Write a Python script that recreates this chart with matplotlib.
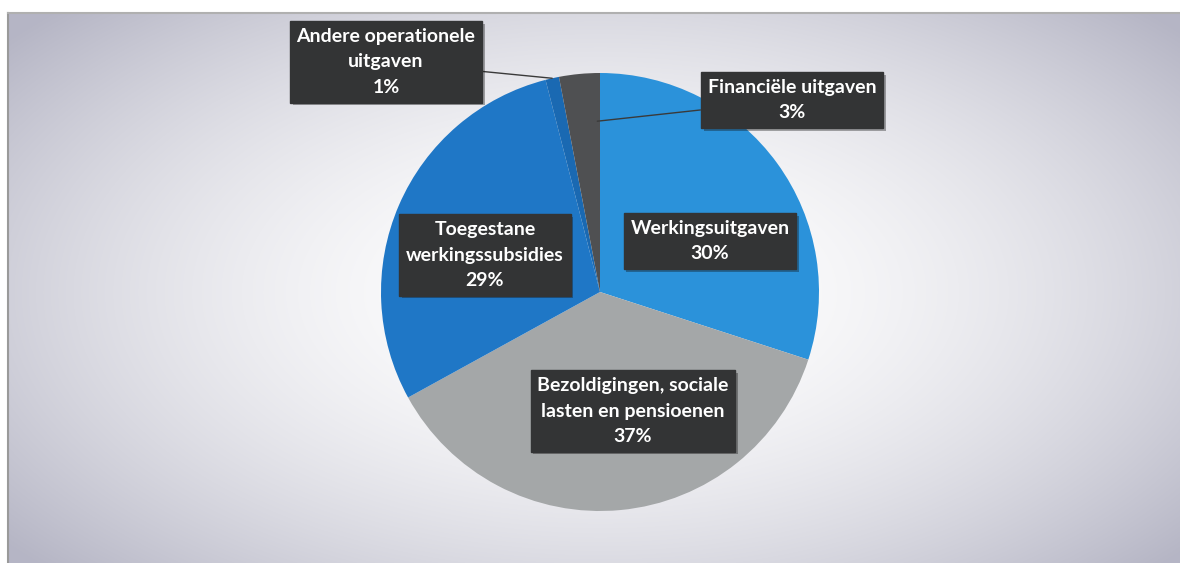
import numpy as np
import matplotlib.pyplot as plt
import matplotlib.patheffects as pe

# data
labels = ["Werkingsuitgaven", "Bezoldigingen, sociale\nlasten en pensioenen",
          "Toegestane\nwerkingssubsidies", "Andere operationele\nuitgaven",
          "Financiële uitgaven"]
shares = [30, 37, 29, 1, 3]
colors = ["#2b92da", "#a4a7a8", "#1f77c6", "#1a69b2", "#4f5052"]

# label placement in image pixels (x, y from top)
label_pos = [(710, 241), (633, 411), (485, 255), (386, 62), (792, 100)]
# leader tip: (radius fraction, angle offset in deg from wedge mid) or None
leader = [None, None, None, (1.0, 0.0), (0.78, -4.5)]

W, H = 1180, 563
CX, CY, R = 600, 292, 219

plt.rcParams["font.family"] = ["Lato", "DejaVu Sans"]

fig = plt.figure(figsize=(W / 100, H / 100), dpi=100)
ax = fig.add_axes([0, 0, 1, 1])

# radial background
yy, xx = np.mgrid[0:H, 0:W]
d = np.sqrt(((xx - CX) / 660.0) ** 2 + ((yy - CY) / 350.0) ** 2)
t = np.clip(d, 0, 1.15) ** 1.8
edge = np.array([198, 198, 210]) / 255.0
img = np.clip(1 - t[..., None] * (1 - edge), 0, 1)
img[:13, :, :] = 1.0
img[:, :8, :] = 1.0
ax.imshow(img, extent=(0, W, 0, H), origin="upper", zorder=0)
ax.plot([8, 8], [0, H - 13], color="#9a9a9a", lw=1.5, zorder=1)
ax.plot([8, W], [H - 13, H - 13], color="#b0b0b0", lw=1.5, zorder=1)

wedges, _ = ax.pie(shares, colors=colors, startangle=90, counterclock=False,
                   center=(CX, H - CY), radius=R,
                   wedgeprops=dict(linewidth=0), frame=True)
for w in wedges:
    w.set_zorder(2)

for w, lab, pct, (px, py), lr in zip(wedges, labels, shares, label_pos, leader):
    txt = f"{lab}\n{pct}%"
    if lr is not None:
        ang = np.deg2rad((w.theta1 + w.theta2) / 2 + lr[1])
        tip = (CX + lr[0] * R * np.cos(ang), H - CY + lr[0] * R * np.sin(ang))
        kw = dict(xy=tip, arrowprops=dict(arrowstyle="-", color="#3a3a3a", lw=1.0,
                                          shrinkA=0, shrinkB=0))
    else:
        kw = dict(xy=(px, H - py))
    t_ = ax.annotate(txt, xytext=(px, H - py), ha="center", va="center",
                     color="white", fontsize=14, fontweight="bold",
                     linespacing=1.6, zorder=5,
                     bbox=dict(boxstyle="square,pad=0.35", fc="#333435", ec="#333435"),
                     **kw)
    t_.get_bbox_patch().set_path_effects(
        [pe.SimplePatchShadow(offset=(2, -2), alpha=0.35), pe.Normal()])

ax.set_xlim(0, W)
ax.set_ylim(0, H)
ax.set_aspect("auto")
ax.axis("off")

fig.savefig("out.png", dpi=100)
